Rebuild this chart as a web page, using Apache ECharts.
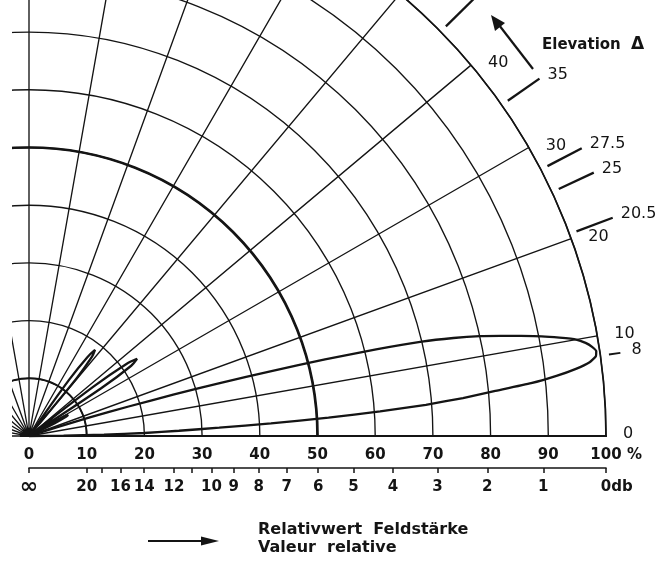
<!DOCTYPE html>
<html><head><meta charset="utf-8">
<script src="https://cdn.jsdelivr.net/npm/echarts@6/dist/echarts.min.js"></script>
<style>html,body{margin:0;padding:0;background:#fff}#c{width:667px;height:562px}</style>
</head><body><div id="c"></div>
<script>
// ---------------- data ----------------
const percentTicks = [0, 10, 20, 30, 40, 50, 60, 70, 80, 90, 100];
const dbTicks = [Infinity, 20, 18, 16, 14, 12, 11, 10, 9, 8, 7, 6, 5, 4, 3, 2, 1, 0];
const dbLabels = [Infinity, 20, 16, 14, 12, 10, 9, 8, 7, 6, 5, 4, 3, 2, 1, 0];
const majorAngles = [0, 10, 20, 30, 40];
const markAngles = [20.5, 25, 27.5, 35, 44.5];
const markLabels = ['20.5', '25', '27.5', '35', ''];
const lobeMarkAngle = [8];
const lobeMarkLabel = ['8'];

const mainLobeAngle = [0, 0.5, 1, 1.5, 2, 2.5, 3, 3.5, 4, 4.5, 5, 5.5, 6, 6.5, 7, 7.5, 8, 8.5, 9, 9.5, 10, 10.5, 11, 11.5, 12, 12.5, 13, 13.5, 14, 14.5, 15, 15.5, 16, 16.5, 17, 17.5, 18];
const mainLobeValue = [0, 6, 13, 20, 26, 33, 42, 52, 61, 69, 75.5, 81, 87.5, 92, 95.5, 98, 99.2, 99.4, 98.8, 97.8, 96.3, 93.5, 90.5, 87, 83.5, 80, 75.5, 70, 62, 53, 43.5, 34.5, 26, 18, 11, 5, 0];

const lobe2Angle = [25.5, 26.5, 27.5, 28.3, 29.2, 30.2, 31];
const lobe2Value = [0, 5, 7.3, 7.7, 7, 4, 0];

const lobe3Angle = [32.5, 33.5, 34.5, 35.5, 36.5, 37.5, 38.5];
const lobe3Value = [0, 15, 21.5, 23, 21, 14, 0];

const lobe4Angle = [49.5, 50.5, 51.5, 52.5, 53.5, 54.5, 55.5];
const lobe4Value = [0, 13, 17.5, 18.8, 17, 12, 0];

// ---------------- chart ----------------
const INK = '#141414';
const FONT = 'DejaVu Sans';
const chart = echarts.init(document.getElementById('c'), null, {renderer: 'canvas'});
const CX = 29, CY = 436, R = 577;

function pairs(ang, val) { return ang.map((a, i) => [val[i], a]); }
const dbToPct = d => (d === Infinity ? 0 : 100 * Math.pow(10, -d / 20));
const dbTickPct = dbTicks.map(dbToPct);
const dbLabelPct = dbLabels.map(dbToPct);
function dbFormatter(v) {
  let best = 0, bd = 1e9;
  dbLabelPct.forEach((p, i) => { const d = Math.abs(p - v); if (d < bd) { bd = d; best = i; } });
  const d = dbLabels[best];
  if (d === Infinity) return '{inf|∞}';
  if (d === 0) return '{h|db}0db';
  return String(d);
}
function pctFormatter(v) {
  if (v === 100) return '{h| %}100 %';
  return String(v);
}

const lobeStyle = {color: INK, width: 2.3};
function lobeSeries(ang, val, sm) {
  return {type: 'line', coordinateSystem: 'polar', polarIndex: 0, data: pairs(ang, val),
    symbol: 'none', smooth: sm, lineStyle: lobeStyle, z: 20, silent: true, animation: false};
}

const option = {
  backgroundColor: '#fff',
  animation: false,
  polar: [{center: [CX, CY], radius: R}, {center: [CX, CY], radius: R / 2}, {center: [CX, CY], radius: R / 10}],
  angleAxis: [
    {polarIndex: 0, type: 'value', min: 0, max: 360, interval: 10, startAngle: 0, clockwise: false,
      axisLine: {show: true, lineStyle: {color: INK, width: 1.7}}, axisTick: {show: false}, axisLabel: {show: false},
      splitLine: {show: true, lineStyle: {color: INK, width: 1.35}}},
    {polarIndex: 1, type: 'value', min: 0, max: 360, startAngle: 0, clockwise: false,
      axisLine: {show: true, lineStyle: {color: INK, width: 2.7}}, axisTick: {show: false}, axisLabel: {show: false}, splitLine: {show: false}},
    {polarIndex: 2, type: 'value', min: 0, max: 360, startAngle: 0, clockwise: false,
      axisLine: {show: true, lineStyle: {color: INK, width: 1.9}}, axisTick: {show: false}, axisLabel: {show: false}, splitLine: {show: false}}
  ],
  radiusAxis: [
    {polarIndex: 0, type: 'value', min: 0, max: 100, interval: 10,
      axisLine: {show: false}, axisTick: {show: false}, axisLabel: {show: false},
      splitLine: {show: true, lineStyle: {color: INK, width: 1.35}}},
    {polarIndex: 1, type: 'value', min: 0, max: 50, show: false},
    {polarIndex: 2, type: 'value', min: 0, max: 10, show: false}
  ],
  grid: {left: CX, right: 667 - CX - R, top: CY, height: 32},
  xAxis: [
    {type: 'value', position: 'top', min: 0, max: 100, interval: 10, z: 30,
      axisLine: {show: true, onZero: false, lineStyle: {color: INK, width: 2}},
      axisTick: {show: false}, splitLine: {show: false},
      axisLabel: {inside: true, margin: 19, verticalAlign: 'middle', color: INK, fontFamily: FONT, fontWeight: 'bold', fontSize: 15,
        formatter: pctFormatter, rich: {h: {color: 'rgba(0,0,0,0)', fontFamily: FONT, fontWeight: 'bold', fontSize: 15}}}},
    {type: 'value', position: 'bottom', min: 0, max: 100, z: 30,
      axisLine: {show: true, onZero: false, lineStyle: {color: INK, width: 1.6}},
      axisTick: {show: true, customValues: dbTickPct, length: 5, lineStyle: {color: INK, width: 1.5}},
      splitLine: {show: false},
      axisLabel: {customValues: dbLabelPct, margin: 19, verticalAlign: 'middle', color: INK, fontFamily: FONT, fontWeight: 'bold', fontSize: 15,
        formatter: dbFormatter, showMinLabel: true, showMaxLabel: true,
        rich: {h: {color: 'rgba(0,0,0,0)', fontFamily: FONT, fontWeight: 'bold', fontSize: 15},
               inf: {fontFamily: FONT, fontWeight: 'bold', fontSize: 22, color: INK}}}}
  ],
  yAxis: [{type: 'value', show: false, min: 0, max: 1}],
  graphic: [
    {type: 'rect', left: 0, top: 0, z: 10, shape: {x: 0, y: 0, width: 12, height: CY + 1}, style: {fill: '#fff'}},
    {type: 'rect', left: 0, top: CY + 1, z: 10, shape: {x: 0, y: 0, width: 667, height: 562 - CY - 1}, style: {fill: '#fff'}},
    {type: 'text', left: 542, top: 38, z: 40, style: {text: 'Elevation', fill: INK, font: 'bold 15px "DejaVu Sans"'}},
    {type: 'text', left: 631, top: 36, z: 40, style: {text: 'Δ', fill: INK, font: 'bold 17px "DejaVu Sans"'}},
    {type: 'line', z: 40, shape: {x1: 533, y1: 69, x2: 499, y2: 25}, style: {stroke: INK, lineWidth: 2.2}},
    {type: 'polygon', z: 40, shape: {points: [[491, 15], [505, 23], [495, 31]]}, style: {fill: INK}},
    {type: 'line', z: 40, shape: {x1: 148, y1: 541, x2: 206, y2: 541}, style: {stroke: INK, lineWidth: 2}},
    {type: 'polygon', z: 40, shape: {points: [[219, 541], [201, 536.5], [201, 545.5]]}, style: {fill: INK}},
    {type: 'text', left: 258, top: 522, z: 40, style: {text: 'Relativwert  Feldstärke', fill: INK, font: 'bold 16px "DejaVu Sans"'}},
    {type: 'text', left: 258, top: 540, z: 40, style: {text: 'Valeur  relative', fill: INK, font: 'bold 16px "DejaVu Sans"'}}
  ],
  series: [
    lobeSeries(mainLobeAngle, mainLobeValue, 0.15),
    lobeSeries(lobe2Angle, lobe2Value, 0.35),
    lobeSeries(lobe3Angle, lobe3Value, 0.35),
    lobeSeries(lobe4Angle, lobe4Value, 0.35),
    {type: 'custom', coordinateSystem: 'polar', polarIndex: 0, z: 40, silent: true,
      data: majorAngles.map(a => [100, a]),
      renderItem: function (params, api) {
        const p = api.coord([100, api.value(1)]);
        return {type: 'text', style: {text: String(api.value(1)), x: p[0] + 17, y: p[1] - 2,
          align: 'left', verticalAlign: 'middle', fill: INK, font: '16px "DejaVu Sans"'}};
      }},
    {type: 'custom', coordinateSystem: 'polar', polarIndex: 0, z: 40, silent: true,
      data: markAngles.map(a => [100, a]),
      renderItem: function (params, api) {
        const a = api.value(1);
        const p1 = api.coord([101.3, a]), p2 = api.coord([108, a]);
        return {type: 'group', children: [
          {type: 'line', shape: {x1: p1[0], y1: p1[1], x2: p2[0], y2: p2[1]}, style: {stroke: INK, lineWidth: 2.3}},
          {type: 'text', style: {text: markLabels[params.dataIndex], x: p2[0] + 8, y: p2[1] - 4,
            align: 'left', verticalAlign: 'middle', fill: INK, font: '16px "DejaVu Sans"'}}
        ]};
      }},
    {type: 'custom', coordinateSystem: 'polar', polarIndex: 0, z: 40, silent: true,
      data: lobeMarkAngle.map(a => [100, a]),
      renderItem: function (params, api) {
        const a = api.value(1);
        const p1 = api.coord([101.5, a]), p2 = api.coord([103.5, a]);
        return {type: 'group', children: [
          {type: 'line', shape: {x1: p1[0], y1: p1[1], x2: p2[0], y2: p2[1]}, style: {stroke: INK, lineWidth: 1.8}},
          {type: 'text', style: {text: lobeMarkLabel[params.dataIndex], x: p2[0] + 11, y: p2[1] - 3,
            align: 'left', verticalAlign: 'middle', fill: INK, font: '16px "DejaVu Sans"'}}
        ]};
      }}
  ]
};
chart.setOption(option);
</script></body></html>
